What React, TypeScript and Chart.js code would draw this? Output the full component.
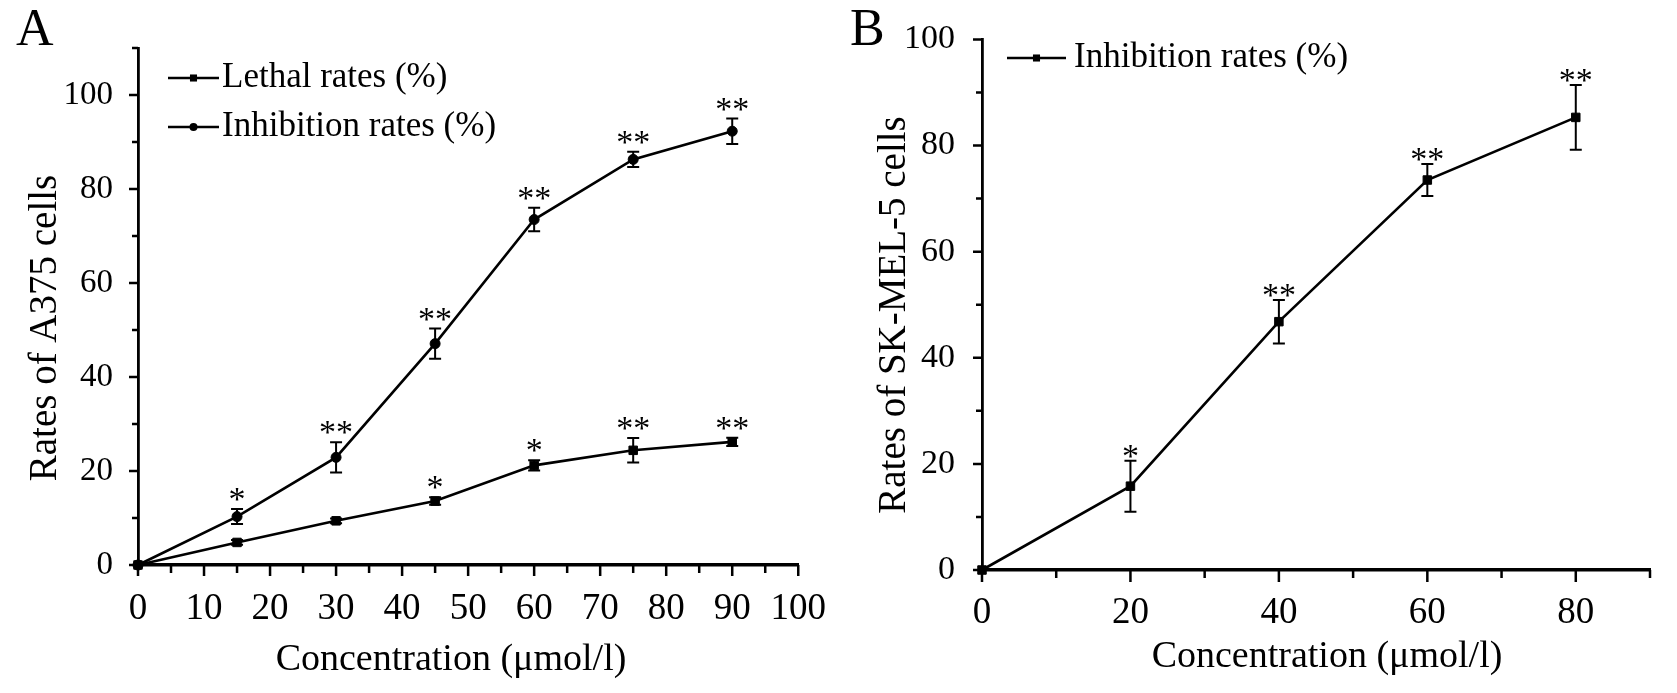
import React, { useEffect, useRef } from "react";
import { Chart, registerables } from "chart.js";

Chart.register(...registerables);

const FONT = "'Liberation Serif', 'Times New Roman', Times, serif";

// ---------- Panel A data ----------
const concentrationsA = [0, 15, 30, 45, 60, 75, 90];
const lethalRatesA = [0, 4.8, 9.4, 13.6, 21.2, 24.4, 26.2];
const lethalErrorsA = [0, 0.5, 0.5, 0.8, 1.1, 2.6, 0.9];
const lethalStarsA = ["", "", "", "*", "*", "**", "**"];
const inhibitionRatesA = [0, 10.3, 22.9, 47.1, 73.5, 86.3, 92.3];
const inhibitionErrorsA = [0, 1.6, 3.2, 3.2, 2.5, 1.6, 2.7];
const inhibitionStarsA = ["", "*", "**", "**", "**", "**", "**"];
const xMajorTicksA = [0, 10, 20, 30, 40, 50, 60, 70, 80, 90, 100];
const xMinorTicksA = [5, 15, 25, 35, 45, 55, 65, 75, 85, 95];
const yMajorTicksA = [0, 20, 40, 60, 80, 100];
const yMinorTicksA = [10, 30, 50, 70, 90, 110];

// ---------- Panel B data ----------
const concentrationsB = [0, 20, 40, 60, 80];
const inhibitionRatesB = [0, 15.8, 46.8, 73.5, 85.3];
const inhibitionErrorsB = [0, 4.8, 4.1, 3.0, 6.1];
const inhibitionStarsB = ["", "*", "**", "**", "**"];
const xMajorTicksB = [0, 20, 40, 60, 80];
const xMinorTicksB = [10, 30, 50, 70, 90];
const yMajorTicksB = [0, 20, 40, 60, 80, 100];
const yMinorTicksB = [10, 30, 50, 70, 90];

type Series = {
  label: string;
  x: number[];
  y: number[];
  err: number[];
  stars: string[];
  marker: "rect" | "circle";
  radius: number;
};

type Panel = {
  canvasLeft: number;
  width: number;
  height: number;
  area: { left: number; right: number; top: number; bottom: number };
  xMax: number;
  yMax: number;
  xMajor: number[];
  xMinor: number[];
  yMajor: number[];
  yMinor: number[];
  series: Series[];
  letter: string;
  letterPos: [number, number];
  xTitle: string;
  xTitlePos: [number, number];
  yTitle: string;
  yTitlePos: [number, number];
  legend: { x0: number; x1: number; textX: number; ys: number[] };
  starGap: number;
  xTickPad: number;
  yTickPad: number;
  xTickFont: number;
  yTickFont: number;
  tickLen: { xMajor: number; xMinor: number; yMajor: number; yMinor: number };
};

const panelA: Panel = {
  canvasLeft: 0,
  width: 840,
  height: 693,
  area: { left: 138, right: 807, top: 48, bottom: 565 },
  xMax: 100,
  yMax: 110,
  xMajor: xMajorTicksA,
  xMinor: xMinorTicksA,
  yMajor: yMajorTicksA,
  yMinor: yMinorTicksA,
  series: [
    { label: "Lethal rates (%)", x: concentrationsA, y: lethalRatesA, err: lethalErrorsA, stars: lethalStarsA, marker: "rect", radius: 6 },
    { label: "Inhibition rates (%)", x: concentrationsA, y: inhibitionRatesA, err: inhibitionErrorsA, stars: inhibitionStarsA, marker: "circle", radius: 5 },
  ],
  letter: "A",
  letterPos: [16, 45],
  xTitle: "Concentration (\u03bcmol/l)",
  xTitlePos: [451, 660],
  yTitle: "Rates of A375 cells",
  yTitlePos: [46, 328],
  legend: { x0: 168, x1: 219, textX: 222, ys: [78, 127] },
  starGap: 1,
  xTickPad: 14,
  yTickPad: 17,
  xTickFont: 37,
  yTickFont: 33,
  tickLen: { xMajor: 11, xMinor: 8, yMajor: 9, yMinor: 6 },
};

const panelB: Panel = {
  canvasLeft: 840,
  width: 837,
  height: 693,
  area: { left: 142, right: 810, top: 23, bottom: 570 },
  xMax: 90,
  yMax: 100,
  xMajor: xMajorTicksB,
  xMinor: xMinorTicksB,
  yMajor: yMajorTicksB,
  yMinor: yMinorTicksB,
  series: [
    { label: "Inhibition rates (%)", x: concentrationsB, y: inhibitionRatesB, err: inhibitionErrorsB, stars: inhibitionStarsB, marker: "rect", radius: 6 },
  ],
  letter: "B",
  letterPos: [10, 45],
  xTitle: "Concentration (\u03bcmol/l)",
  xTitlePos: [487, 657],
  yTitle: "Rates of SK-MEL-5 cells",
  yTitlePos: [55, 315],
  legend: { x0: 167, x1: 226, textX: 234, ys: [58] },
  starGap: 6,
  xTickPad: 13,
  yTickPad: 19,
  xTickFont: 37,
  yTickFont: 34,
  tickLen: { xMajor: 12, xMinor: 8, yMajor: 9, yMinor: 6 },
};

function drawMarker(ctx: CanvasRenderingContext2D, style: string, r: number, x: number, y: number) {
  ctx.beginPath();
  if (style === "rect") {
    const h = r * Math.SQRT1_2;
    ctx.rect(x - h, y - h, 2 * h, 2 * h);
  } else {
    ctx.arc(x, y, r, 0, Math.PI * 2);
  }
  ctx.fill();
}

function decorPlugin(p: Panel) {
  return {
    id: "decor",
    afterDatasetsDraw(chart: any) {
      const ctx: CanvasRenderingContext2D = chart.ctx;
      const xs = chart.scales.x;
      const ys = chart.scales.y;
      ctx.save();
      ctx.strokeStyle = "#000";
      ctx.fillStyle = "#000";
      ctx.lineWidth = 2;
      p.series.forEach((s) => {
        s.x.forEach((xv, i) => {
          const e = s.err[i];
          const px = xs.getPixelForValue(xv);
          const top = ys.getPixelForValue(s.y[i] + e);
          const bot = ys.getPixelForValue(s.y[i] - e);
          if (e > 0) {
            const cap = 6;
            ctx.beginPath();
            ctx.moveTo(px, top);
            ctx.lineTo(px, bot);
            ctx.moveTo(px - cap, top);
            ctx.lineTo(px + cap, top);
            ctx.moveTo(px - cap, bot);
            ctx.lineTo(px + cap, bot);
            ctx.stroke();
          }
          if (s.stars[i]) {
            ctx.font = `34px ${FONT}`;
            ctx.textAlign = "center";
            ctx.textBaseline = "alphabetic";
            ctx.fillText(s.stars[i], px, top + p.starGap);
          }
        });
      });
      ctx.restore();
    },
    afterDraw(chart: any) {
      const ctx: CanvasRenderingContext2D = chart.ctx;
      const xs = chart.scales.x;
      const ys = chart.scales.y;
      const a = chart.chartArea;
      ctx.save();
      ctx.strokeStyle = "#000";
      ctx.fillStyle = "#000";
      ctx.lineWidth = 2.5;
      // tick marks
      ctx.beginPath();
      p.xMajor.forEach((v) => {
        const px = xs.getPixelForValue(v);
        ctx.moveTo(px, a.bottom);
        ctx.lineTo(px, a.bottom + p.tickLen.xMajor);
      });
      p.xMinor.forEach((v) => {
        const px = xs.getPixelForValue(v);
        ctx.moveTo(px, a.bottom);
        ctx.lineTo(px, a.bottom + p.tickLen.xMinor);
      });
      p.yMajor.forEach((v) => {
        const py = ys.getPixelForValue(v);
        ctx.moveTo(a.left, py);
        ctx.lineTo(a.left - p.tickLen.yMajor, py);
      });
      p.yMinor.forEach((v) => {
        const py = ys.getPixelForValue(v);
        ctx.moveTo(a.left, py);
        ctx.lineTo(a.left - p.tickLen.yMinor, py);
      });
      ctx.stroke();

      // axis titles
      ctx.font = `38px ${FONT}`;
      ctx.textAlign = "center";
      ctx.textBaseline = "middle";
      ctx.fillText(p.xTitle, p.xTitlePos[0], p.xTitlePos[1]);
      ctx.save();
      ctx.translate(p.yTitlePos[0], p.yTitlePos[1]);
      ctx.rotate(-Math.PI / 2);
      ctx.font = `39px ${FONT}`;
      ctx.fillText(p.yTitle, 0, 0);
      ctx.restore();

      // panel letter
      ctx.font = `52px ${FONT}`;
      ctx.textAlign = "left";
      ctx.textBaseline = "alphabetic";
      ctx.fillText(p.letter, p.letterPos[0], p.letterPos[1]);

      // legend
      p.series.forEach((s, i) => {
        const y = p.legend.ys[i];
        ctx.lineWidth = 2.6;
        ctx.beginPath();
        ctx.moveTo(p.legend.x0, y);
        ctx.lineTo(p.legend.x1, y);
        ctx.stroke();
        drawMarker(ctx, s.marker, s.radius - 1, (p.legend.x0 + p.legend.x1) / 2, y);
        ctx.font = `35px ${FONT}`;
        ctx.textAlign = "left";
        ctx.textBaseline = "middle";
        ctx.fillText(s.label, p.legend.textX, y);
      });
      ctx.restore();
    },
  };
}

function buildConfig(p: Panel): any {
  const datasets = p.series.map((s) => ({
    label: s.label,
    data: s.x.map((x, i) => ({ x, y: s.y[i] })),
    borderColor: "#000",
    backgroundColor: "#000",
    borderWidth: 2.6,
    pointStyle: s.marker,
    pointRadius: s.radius,
    pointBackgroundColor: "#000",
    pointBorderColor: "#000",
    pointBorderWidth: 1,
    tension: 0,
    fill: false,
    clip: false,
  }));
  return {
    type: "line",
    data: { datasets },
    options: {
      animation: false,
      responsive: false,
      maintainAspectRatio: false,
      devicePixelRatio: 1,
      events: [],
      layout: { padding: { left: 0, top: p.area.top, right: p.width - p.area.right, bottom: 0 } },
      plugins: { legend: { display: false }, tooltip: { enabled: false }, title: { display: false } },
      scales: {
        x: {
          type: "linear",
          position: "bottom",
          min: 0,
          max: p.xMax,
          grid: { display: false },
          border: { display: true, color: "#000", width: 3.5 },
          ticks: { color: "#000", font: { family: FONT, size: p.xTickFont }, padding: p.xTickPad, maxRotation: 0, autoSkip: false },
          afterBuildTicks: (s: any) => {
            s.ticks = p.xMajor.map((value) => ({ value }));
          },
          afterFit: (s: any) => {
            s.height = p.height - p.area.bottom;
          },
        },
        y: {
          type: "linear",
          position: "left",
          min: 0,
          max: p.yMax,
          grid: { display: false },
          border: { display: true, color: "#000", width: 2.8 },
          ticks: { color: "#000", font: { family: FONT, size: p.yTickFont }, padding: p.yTickPad, autoSkip: false },
          afterBuildTicks: (s: any) => {
            s.ticks = p.yMajor.map((value) => ({ value }));
          },
          afterFit: (s: any) => {
            s.width = p.area.left;
          },
        },
      },
    },
    plugins: [decorPlugin(p)],
  };
}

function PanelChart({ panel }: { panel: Panel }) {
  const ref = useRef<HTMLCanvasElement>(null);
  useEffect(() => {
    const canvas = ref.current;
    if (!canvas) return;
    const chart = new Chart(canvas, buildConfig(panel));
    return () => chart.destroy();
  }, [panel]);
  return (
    <canvas
      ref={ref}
      width={panel.width}
      height={panel.height}
      style={{ position: "absolute", left: panel.canvasLeft, top: 0, width: panel.width, height: panel.height }}
    />
  );
}

export default function App() {
  return (
    <div style={{ position: "absolute", left: 0, top: 0, width: 1677, height: 693, background: "#fff", overflow: "hidden" }}>
      <PanelChart panel={panelA} />
      <PanelChart panel={panelB} />
    </div>
  );
}
